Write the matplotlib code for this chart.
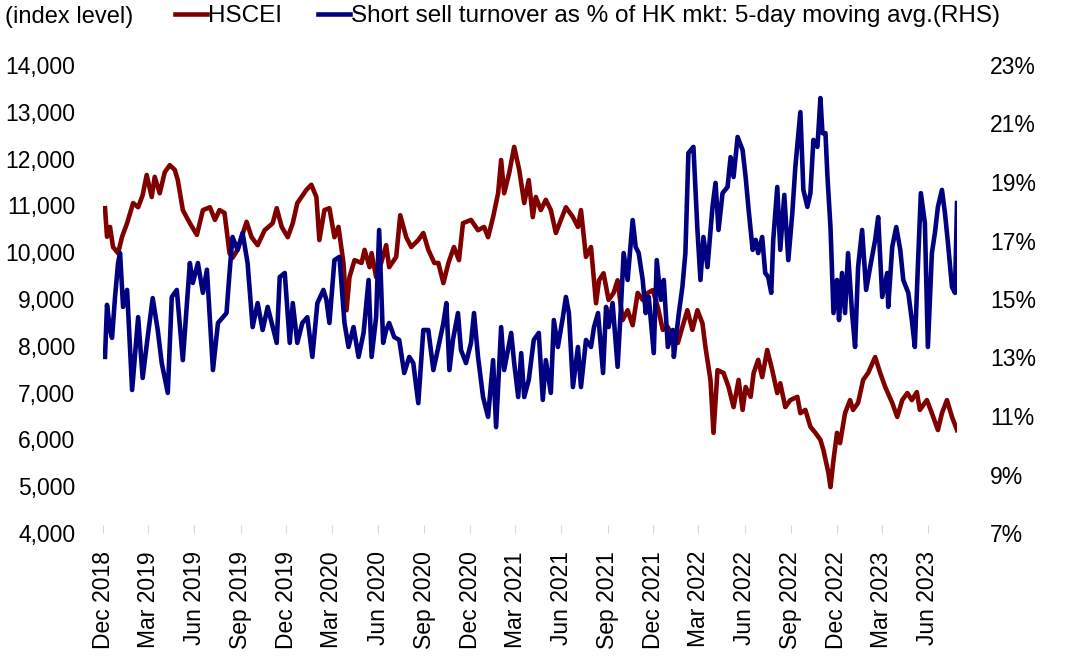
import matplotlib
matplotlib.use('Agg')
import matplotlib.pyplot as plt
import matplotlib.dates as mdates
import matplotlib.ticker as mticker
import pandas as pd

plt.rcParams['font.family'] = ['Liberation Sans', 'DejaVu Sans']

# HSCEI index level (LHS)
hscei_dates = [
    '2018-12-05', '2018-12-09', '2018-12-15', '2018-12-21', '2018-12-31', '2019-01-08', '2019-01-18',
    '2019-01-30', '2019-02-09', '2019-02-18', '2019-02-26', '2019-03-08', '2019-03-14', '2019-03-24',
    '2019-04-03', '2019-04-13', '2019-04-23', '2019-04-29', '2019-05-09', '2019-05-23', '2019-06-06',
    '2019-06-18', '2019-07-02', '2019-07-12', '2019-07-21', '2019-07-31', '2019-08-10', '2019-08-16',
    '2019-08-26', '2019-09-13', '2019-09-23', '2019-10-05', '2019-10-19', '2019-11-04', '2019-11-12',
    '2019-11-22', '2019-12-04', '2019-12-14', '2019-12-23', '2020-01-10', '2020-01-20', '2020-01-30',
    '2020-02-05', '2020-02-15', '2020-02-25', '2020-03-06', '2020-03-14', '2020-03-24', '2020-03-30',
    '2020-04-05', '2020-04-15', '2020-04-29', '2020-05-05', '2020-05-15', '2020-05-19', '2020-05-28',
    '2020-06-07', '2020-06-17', '2020-06-23', '2020-07-07', '2020-07-15', '2020-07-27', '2020-08-06',
    '2020-08-20', '2020-08-30', '2020-09-09', '2020-09-21', '2020-09-29', '2020-10-09', '2020-10-19',
    '2020-10-30', '2020-11-09', '2020-11-17', '2020-12-03', '2020-12-17', '2020-12-29', '2021-01-06',
    '2021-01-16', '2021-01-26', '2021-02-01', '2021-02-07', '2021-02-17', '2021-02-27', '2021-03-09',
    '2021-03-19', '2021-03-28', '2021-04-05', '2021-04-11', '2021-04-21', '2021-05-01', '2021-05-11',
    '2021-05-21', '2021-05-31', '2021-06-10', '2021-06-24', '2021-07-04', '2021-07-10', '2021-07-20',
    '2021-07-30', '2021-08-09', '2021-08-15', '2021-08-24', '2021-09-03', '2021-09-13', '2021-09-21',
    '2021-10-01', '2021-10-11', '2021-10-21', '2021-10-31', '2021-11-10', '2021-11-20', '2021-11-30',
    '2021-12-10', '2021-12-20', '2021-12-30', '2022-01-11', '2022-01-19', '2022-01-28', '2022-02-07',
    '2022-02-17', '2022-02-27', '2022-03-09', '2022-03-15', '2022-03-25', '2022-03-31', '2022-04-08',
    '2022-04-20', '2022-04-30', '2022-05-10', '2022-05-20', '2022-05-28', '2022-06-03', '2022-06-13',
    '2022-06-19', '2022-06-28', '2022-07-06', '2022-07-16', '2022-07-26', '2022-08-05', '2022-08-11',
    '2022-08-21', '2022-08-31', '2022-09-14', '2022-09-20', '2022-09-30', '2022-10-10', '2022-10-20',
    '2022-10-30', '2022-11-05', '2022-11-15', '2022-11-19', '2022-11-25', '2022-12-02', '2022-12-08',
    '2022-12-18', '2022-12-28', '2023-01-03', '2023-01-13', '2023-01-23', '2023-02-02', '2023-02-16',
    '2023-02-26', '2023-03-08', '2023-03-22', '2023-04-01', '2023-04-11', '2023-04-21', '2023-04-30',
    '2023-05-10', '2023-05-16', '2023-05-30', '2023-06-09', '2023-06-21', '2023-06-29', '2023-07-09',
    '2023-07-19', '2023-07-29',
]
hscei_vals = [
    10940, 10330, 10540, 10110, 9980, 10330, 10620,
    11050, 10960, 11220, 11650, 11180, 11610, 11260,
    11710, 11860, 11760, 11540, 10900, 10620, 10370,
    10900, 10960, 10690, 10900, 10840, 9980, 9880,
    10050, 10650, 10320, 10150, 10470, 10620, 10940,
    10540, 10320, 10620, 11050, 11330, 11440, 11180,
    10260, 10900, 10940, 10320, 10540, 9770, 8760,
    9470, 9830, 9770, 10050, 9680, 9980, 9470,
    9770, 10150, 9680, 9900, 10790, 10320, 10110,
    10260, 10410, 10050, 9770, 9770, 9340, 9770,
    10110, 9830, 10620, 10690, 10470, 10540, 10320,
    10750, 11260, 11970, 11260, 11690, 12250, 11760,
    11050, 11540, 10750, 11180, 10900, 11120, 10900,
    10410, 10690, 10960, 10750, 10540, 10900, 9900,
    10110, 8910, 9400, 9550, 8980, 9130, 9400,
    8550, 8760, 8440, 9130, 8980, 9130, 9190,
    8830, 8340, 8400, 8120, 8060, 8400, 8760,
    8340, 8760, 8480, 7970, 7270, 6140, 7480,
    7420, 7120, 6690, 7270, 6630, 7120, 6910,
    7420, 7700, 7330, 7910, 7480, 6990, 7200,
    6690, 6840, 6910, 6560, 6630, 6270, 6140,
    5990, 5770, 5280, 4980, 5560, 6140, 5920,
    6560, 6840, 6630, 6780, 7270, 7420, 7760,
    7420, 7120, 6780, 6480, 6840, 6990, 6840,
    7010, 6630, 6840, 6560, 6200, 6560, 6840,
    6480, 6200,
]

# Short sell turnover as % of HK market, 5-day moving average (RHS)
ss_dates = [
    '2018-12-05', '2018-12-09', '2018-12-15', '2018-12-19', '2018-12-25', '2018-12-31', '2019-01-04',
    '2019-01-10', '2019-01-18', '2019-01-28', '2019-02-09', '2019-02-18', '2019-02-28', '2019-03-10',
    '2019-03-20', '2019-03-28', '2019-04-09', '2019-04-17', '2019-04-27', '2019-05-09', '2019-05-23',
    '2019-05-29', '2019-06-08', '2019-06-18', '2019-06-26', '2019-07-08', '2019-07-18', '2019-08-04',
    '2019-08-10', '2019-08-16', '2019-08-26', '2019-09-05', '2019-09-15', '2019-09-25', '2019-10-05',
    '2019-10-15', '2019-10-25', '2019-11-12', '2019-11-18', '2019-11-28', '2019-12-08', '2019-12-14',
    '2019-12-23', '2020-01-02', '2020-01-12', '2020-01-22', '2020-02-01', '2020-02-13', '2020-02-19',
    '2020-02-25', '2020-03-06', '2020-03-16', '2020-03-26', '2020-04-03', '2020-04-13', '2020-04-23',
    '2020-05-03', '2020-05-13', '2020-05-19', '2020-05-28', '2020-06-03', '2020-06-11', '2020-06-17',
    '2020-06-23', '2020-07-03', '2020-07-13', '2020-07-23', '2020-08-02', '2020-08-10', '2020-08-20',
    '2020-08-30', '2020-09-09', '2020-09-19', '2020-09-29', '2020-10-09', '2020-10-15', '2020-10-21',
    '2020-10-28', '2020-11-07', '2020-11-13', '2020-11-23', '2020-12-03', '2020-12-09', '2020-12-17',
    '2020-12-27', '2021-01-06', '2021-01-16', '2021-01-22', '2021-02-01', '2021-02-07', '2021-02-21',
    '2021-02-27', '2021-03-07', '2021-03-13', '2021-03-19', '2021-03-28', '2021-04-07', '2021-04-17',
    '2021-04-25', '2021-05-01', '2021-05-11', '2021-05-17', '2021-05-25', '2021-06-04', '2021-06-10',
    '2021-06-16', '2021-06-24', '2021-07-04', '2021-07-10', '2021-07-20', '2021-07-30', '2021-08-05',
    '2021-08-13', '2021-08-23', '2021-08-29', '2021-09-03', '2021-09-11', '2021-09-21', '2021-09-27',
    '2021-10-03', '2021-10-11', '2021-10-21', '2021-10-27', '2021-11-02', '2021-11-10', '2021-11-16',
    '2021-11-22', '2021-12-02', '2021-12-08', '2021-12-16', '2021-12-22', '2021-12-30', '2022-01-09',
    '2022-01-11', '2022-01-21', '2022-01-28', '2022-02-03', '2022-02-09', '2022-02-19', '2022-02-27',
    '2022-03-05', '2022-03-11', '2022-03-19', '2022-03-29', '2022-04-04', '2022-04-10', '2022-04-18',
    '2022-04-28', '2022-05-04', '2022-05-10', '2022-05-18', '2022-05-28', '2022-06-03', '2022-06-09',
    '2022-06-17', '2022-06-23', '2022-06-28', '2022-07-06', '2022-07-12', '2022-07-18', '2022-07-24',
    '2022-07-28', '2022-08-05', '2022-08-11', '2022-08-19', '2022-08-27', '2022-09-04', '2022-09-10',
    '2022-09-20', '2022-09-26', '2022-10-04', '2022-10-10', '2022-10-16', '2022-10-24', '2022-10-30',
    '2022-11-03', '2022-11-09', '2022-11-13', '2022-11-19', '2022-11-25', '2022-12-02', '2022-12-06',
    '2022-12-12', '2022-12-18', '2022-12-24', '2023-01-01', '2023-01-07', '2023-01-13', '2023-01-21',
    '2023-01-29', '2023-02-06', '2023-02-16', '2023-02-22', '2023-03-02', '2023-03-12', '2023-03-14',
    '2023-03-22', '2023-03-30', '2023-04-07', '2023-04-13', '2023-04-23', '2023-04-30', '2023-05-06',
    '2023-05-12', '2023-05-18', '2023-05-26', '2023-06-01', '2023-06-09', '2023-06-15', '2023-06-21',
    '2023-06-29', '2023-07-05', '2023-07-11', '2023-07-19', '2023-07-25', '2023-07-29',
]
ss_vals = [
    13.02, 14.80, 13.94, 13.67, 15.07, 16.23, 16.57,
    14.73, 15.31, 11.89, 14.38, 12.30, 13.70, 15.03,
    13.94, 12.81, 11.79, 15.07, 15.31, 12.91, 16.23,
    15.55, 16.23, 15.21, 16.00, 12.57, 14.18, 14.52,
    15.89, 17.12, 16.68, 17.26, 16.23, 14.04, 14.86,
    13.94, 14.73, 13.50, 15.75, 15.89, 13.50, 14.86,
    13.50, 14.18, 14.38, 13.02, 14.86, 15.31, 14.97,
    14.18, 16.33, 16.44, 14.18, 13.36, 14.04, 13.02,
    13.84, 15.65, 13.02, 14.38, 17.36, 13.50, 13.94,
    14.18, 13.70, 13.60, 12.47, 13.02, 12.81, 11.44,
    13.94, 13.94, 12.57, 13.36, 14.18, 14.86, 12.57,
    13.60, 14.52, 13.26, 12.81, 13.50, 14.52, 13.02,
    11.65, 10.97, 12.91, 10.62, 14.04, 12.57, 13.84,
    12.81, 11.65, 13.15, 11.65, 12.23, 13.60, 13.84,
    11.55, 12.91, 11.79, 14.28, 13.36, 14.38, 15.07,
    14.52, 11.99, 13.36, 11.99, 13.60, 13.36, 14.04,
    14.52, 12.47, 14.73, 14.04, 14.86, 12.68, 14.52,
    16.57, 15.65, 17.70, 16.78, 16.57, 15.65, 14.52,
    15.07, 13.15, 16.33, 14.97, 15.65, 13.36, 13.94,
    13.02, 14.52, 15.41, 16.57, 19.99, 20.20, 17.36,
    15.65, 17.12, 16.09, 18.15, 18.97, 17.36, 18.62,
    18.83, 19.85, 19.17, 20.54, 20.09, 19.17, 18.04,
    16.68, 17.02, 16.57, 17.12, 15.89, 15.75, 15.21,
    17.02, 18.83, 16.68, 18.56, 16.33, 17.94, 19.51,
    21.39, 18.73, 18.15, 18.62, 20.44, 20.20, 21.87,
    20.67, 20.67, 19.17, 17.46, 14.52, 15.65, 14.28,
    15.89, 14.52, 16.57, 14.52, 13.36, 16.09, 17.36,
    15.31, 16.09, 17.02, 17.80, 15.07, 15.89, 14.73,
    16.78, 17.46, 16.68, 15.65, 15.21, 14.28, 13.36,
    16.09, 18.62, 17.60, 13.36, 16.57, 17.26, 18.15,
    18.73, 17.94, 16.91, 15.41, 15.21, 18.28,
]

tick_dates = pd.date_range('2018-12-01', '2023-06-01', freq='3MS')

fig = plt.figure(figsize=(10.8, 6.62), dpi=100)
ax = fig.add_axes([103 / 1080, 1 - 533 / 662, (957 - 103) / 1080, (533 - 65) / 662])
ax2 = ax.twinx()

red = '#800000'
blue = '#000080'

l1, = ax.plot(pd.to_datetime(hscei_dates), hscei_vals, color=red, lw=3.3, label='HSCEI',
              solid_joinstyle='round')
l2, = ax2.plot(pd.to_datetime(ss_dates), ss_vals, color=blue, lw=3.3,
               label='Short sell turnover as % of HK mkt: 5-day moving avg.(RHS)',
               solid_joinstyle='round')

ax.set_xlim(pd.Timestamp('2018-12-05'), pd.Timestamp('2023-07-29'))
ax.set_ylim(4000, 14000)
ax2.set_ylim(7, 23)
ax.set_yticks(range(4000, 14001, 1000))
ax2.set_yticks(range(7, 24, 2))
ax.yaxis.set_major_formatter(mticker.FuncFormatter(lambda v, p: f'{int(v):,}'))
ax2.yaxis.set_major_formatter(mticker.FuncFormatter(lambda v, p: f'{int(v)}%'))

ax.set_xticks(tick_dates)
ax.xaxis.set_major_formatter(mdates.DateFormatter('%b %Y'))
for lab in ax.get_xticklabels():
    lab.set_rotation(90)

for a in (ax, ax2):
    for s in a.spines.values():
        s.set_visible(False)

ax.tick_params(axis='y', length=0, labelsize=16.5, pad=20)
ax2.tick_params(axis='y', length=0, labelsize=16.5, pad=24)
ax.tick_params(axis='x', direction='in', length=6, color='#d9d9d9', labelsize=16.5, pad=13)

fig.text(5 / 1080, 1 - 17 / 662, '(index level)', fontsize=17, ha='left', va='center')
fig.legend(handles=[l1, l2], loc='center left', bbox_to_anchor=(175 / 1080, 1 - 16 / 662),
           bbox_transform=fig.transFigure, ncol=2, frameon=False, fontsize=17.5,
           handlelength=1.3, handletextpad=0.05, columnspacing=1.5, borderpad=0,
           borderaxespad=0)

fig.savefig('out.png', dpi=100)
